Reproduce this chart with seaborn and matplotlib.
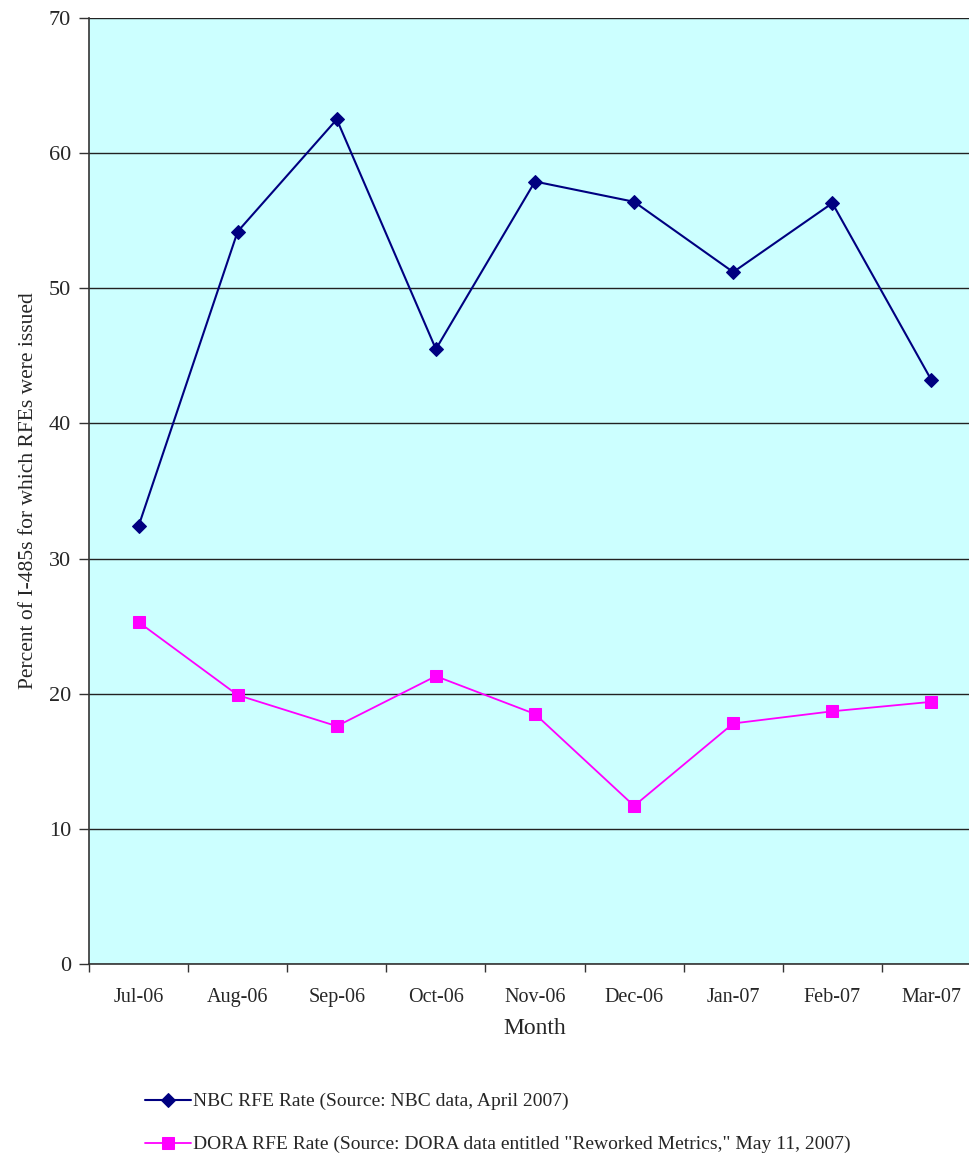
import numpy as np
import pandas as pd
import matplotlib
matplotlib.use("Agg")
import matplotlib.pyplot as plt
from matplotlib.ticker import FixedLocator, NullFormatter
import seaborn as sns

months = ["Jul-06", "Aug-06", "Sep-06", "Oct-06", "Nov-06",
          "Dec-06", "Jan-07", "Feb-07", "Mar-07"]
nbc_rate = [32.4, 54.2, 62.5, 45.5, 57.9, 56.4, 51.2, 56.3, 43.2]
dora_rate = [25.3, 19.9, 17.6, 21.3, 18.5, 11.7, 17.8, 18.7, 19.4]
y_ticks = [0, 10, 20, 30, 40, 50, 60, 70]

nbc_label = "NBC RFE Rate (Source: NBC data, April 2007)"
dora_label = ('DORA RFE Rate (Source: DORA data entitled '
              '"Reworked Metrics," May 11, 2007)')

sns.set_theme(style="white")
plt.rcParams["font.family"] = ["Liberation Serif", "DejaVu Serif"]

df = pd.DataFrame({
    "Month": months * 2,
    "Rate": nbc_rate + dora_rate,
    "Series": [nbc_label] * len(months) + [dora_label] * len(months),
})
df["pos"] = list(range(len(months))) * 2

fig = plt.figure(figsize=(9.70, 11.55), dpi=100)
W, H = 970, 1155
ax = fig.add_axes([89 / W, 1 - 964 / H, 892 / W, (964 - 18) / H])
ax.set_facecolor("#CCFFFF")

styles = {
    nbc_label: dict(color="#000080", marker="D", ms=7.5, lw=1.5),
    dora_label: dict(color="#FF00FF", marker="s", ms=8.5, lw=1.3),
}
for name, st in styles.items():
    sub = df[df["Series"] == name]
    sns.lineplot(data=sub, x="pos", y="Rate", ax=ax, color=st["color"],
                 marker=st["marker"], markersize=st["ms"], linewidth=st["lw"],
                 markeredgecolor=st["color"], label=name, sort=False)

ax.set_xlim(-0.5, len(months) - 0.5)
ax.set_ylim(0, 70)
ax.set_yticks(y_ticks)
ax.set_xticks(range(len(months)))
ax.set_xticklabels(months, fontsize=14.5)
ax.xaxis.set_minor_locator(FixedLocator(np.arange(-0.5, len(months), 1.0)))
ax.xaxis.set_minor_formatter(NullFormatter())
ax.tick_params(axis="x", which="major", length=0, pad=17)
ax.tick_params(axis="x", which="minor", length=6, width=1, color="#333333",
               direction="out", bottom=True)
ax.tick_params(axis="y", length=7, width=1, color="#333333", direction="out",
               left=True, labelsize=16, pad=6)

ax.grid(axis="y", color="#222222", linewidth=1)
ax.set_axisbelow(True)
for side in ["top", "right"]:
    ax.spines[side].set_visible(False)
for side in ["left", "bottom"]:
    ax.spines[side].set_color("#333333")
    ax.spines[side].set_linewidth(1.2)

ax.set_xlabel("Month", fontsize=17, labelpad=8)
ax.set_ylabel("Percent of I-485s for which RFEs were issued", fontsize=15.5,
              labelpad=8)

handles, labels = ax.get_legend_handles_labels()
ax.get_legend().remove()
fig.legend(handles, labels, loc="upper left",
           bbox_to_anchor=(137 / W, 1 - 1085 / H), frameon=False,
           fontsize=14, handlelength=2.4, handletextpad=0.1,
           labelspacing=1.3, borderaxespad=0)

fig.savefig("out.png", dpi=100)
